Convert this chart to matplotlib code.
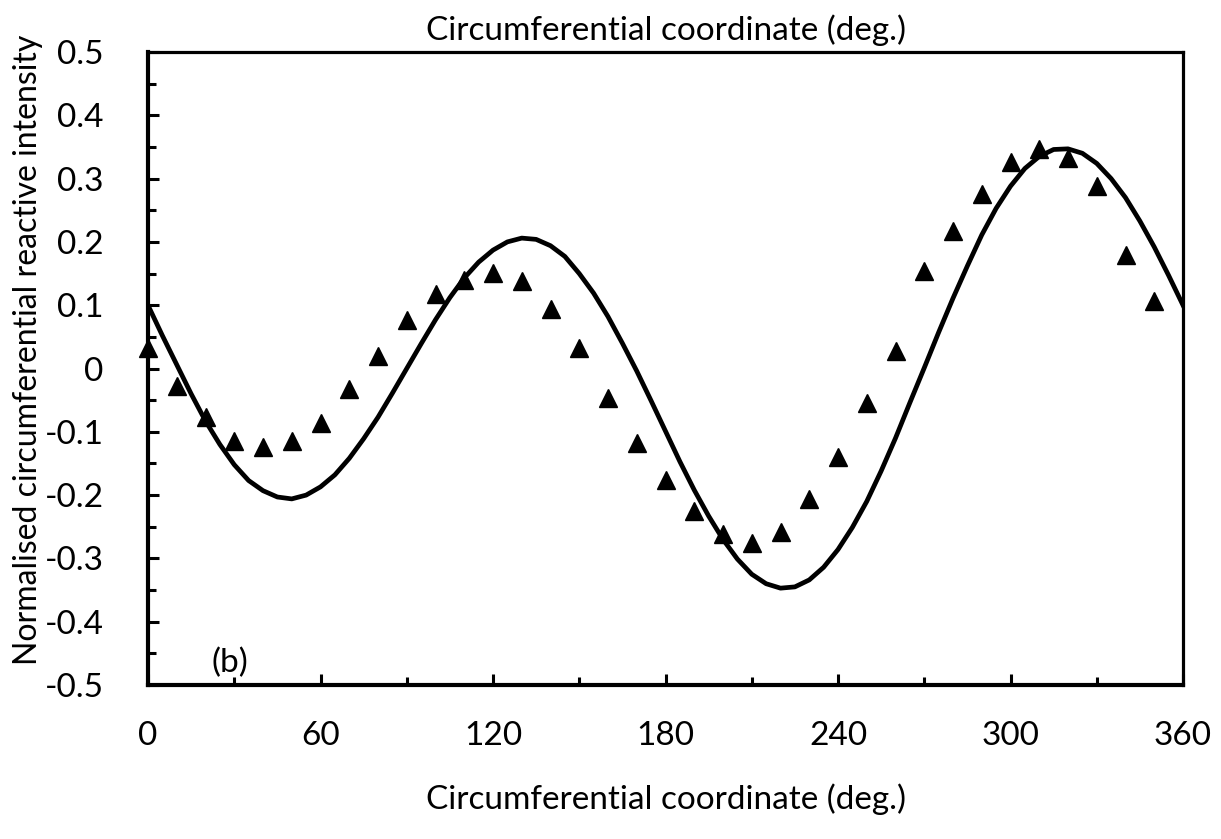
import numpy as np
import matplotlib
matplotlib.use('Agg')
import matplotlib.pyplot as plt
from matplotlib.ticker import MultipleLocator

# measured points (triangles), every 10 deg
meas_deg = [0, 10, 20, 30, 40, 50, 60, 70, 80, 90, 100, 110, 120, 130, 140, 150, 160, 170,
            180, 190, 200, 210, 220, 230, 240, 250, 260, 270, 280, 290, 300, 310, 320, 330, 340, 350]
meas_val = [0.032, -0.028, -0.077, -0.114, -0.124, -0.114, -0.086, -0.032, 0.019, 0.077,
            0.117, 0.140, 0.151, 0.139, 0.094, 0.032, -0.046, -0.118, -0.176, -0.225,
            -0.262, -0.276, -0.259, -0.206, -0.140, -0.054, 0.028, 0.154, 0.217, 0.276,
            0.327, 0.346, 0.333, 0.288, 0.180, 0.106]

# model curve, read every 5 deg
curve_deg = list(range(0, 365, 5))
curve_val = [0.100, 0.052, 0.006, -0.040, -0.083, -0.120, -0.152, -0.177, -0.193, -0.203,
             -0.206, -0.200, -0.187, -0.168, -0.142, -0.111, -0.077, -0.039, 0.000, 0.039,
             0.077, 0.112, 0.143, 0.168, 0.187, 0.200, 0.206, 0.204, 0.194, 0.177,
             0.150, 0.119, 0.082, 0.040, -0.004, -0.051, -0.099, -0.147, -0.192, -0.233,
             -0.270, -0.301, -0.325, -0.340, -0.347, -0.345, -0.334, -0.314, -0.286, -0.251,
             -0.210, -0.162, -0.110, -0.054, 0.001, 0.057, 0.111, 0.162, 0.211, 0.253,
             0.288, 0.316, 0.335, 0.346, 0.347, 0.340, 0.324, 0.300, 0.270, 0.233,
             0.192, 0.147, 0.100]

plt.rcParams['font.family'] = ['Lato', 'DejaVu Sans']
fs = 24

fig = plt.figure(figsize=(12.21, 8.39), dpi=100)
ax = fig.add_axes([148 / 1221, 1 - 685 / 839, (1183 - 148) / 1221, (685 - 52) / 839])

ax.plot(curve_deg, curve_val, color='black', lw=3.4, solid_joinstyle='round', zorder=2)
ax.plot(meas_deg, meas_val, linestyle='none', marker='^', markersize=13,
        color='black', zorder=3, clip_on=False)

ax.set_xlim(0, 360)
ax.set_ylim(-0.5, 0.5)
ax.xaxis.set_major_locator(MultipleLocator(60))
ax.xaxis.set_minor_locator(MultipleLocator(30))
ax.yaxis.set_major_locator(MultipleLocator(0.1))
ax.yaxis.set_minor_locator(MultipleLocator(0.05))

ylabels = ['-0.5', '-0.4', '-0.3', '-0.2', '-0.1', '0', '0.1', '0.2', '0.3', '0.4', '0.5']
ax.set_yticks(np.arange(-0.5, 0.51, 0.1))
ax.set_yticklabels(ylabels)

ax.tick_params(axis='both', which='both', direction='in', top=False, right=False,
               width=2.2, labelsize=fs)
ax.tick_params(axis='both', which='major', length=8)
ax.tick_params(axis='both', which='minor', length=6)
ax.tick_params(axis='y', which='major', pad=32)
ax.tick_params(axis='x', which='major', pad=26)

for side in ['left', 'bottom']:
    ax.spines[side].set_linewidth(3)
for side in ['top', 'right']:
    ax.spines[side].set_linewidth(2.3)

ax.set_xlabel('Circumferential coordinate (deg.)', fontsize=fs, labelpad=23)
fig.text(28 / 1221, 1 - 350 / 839, 'Normalised circumferential reactive intensity',
         fontsize=23, rotation=90, ha='center', va='center')
fig.text(665.5 / 1221, 1 - 30 / 839, 'Circumferential coordinate (deg.)',
         fontsize=fs, ha='center', va='center')
ax.text(28.5, -0.465, '(b)', fontsize=fs, ha='center', va='center')

fig.savefig('out.png', dpi=100)
